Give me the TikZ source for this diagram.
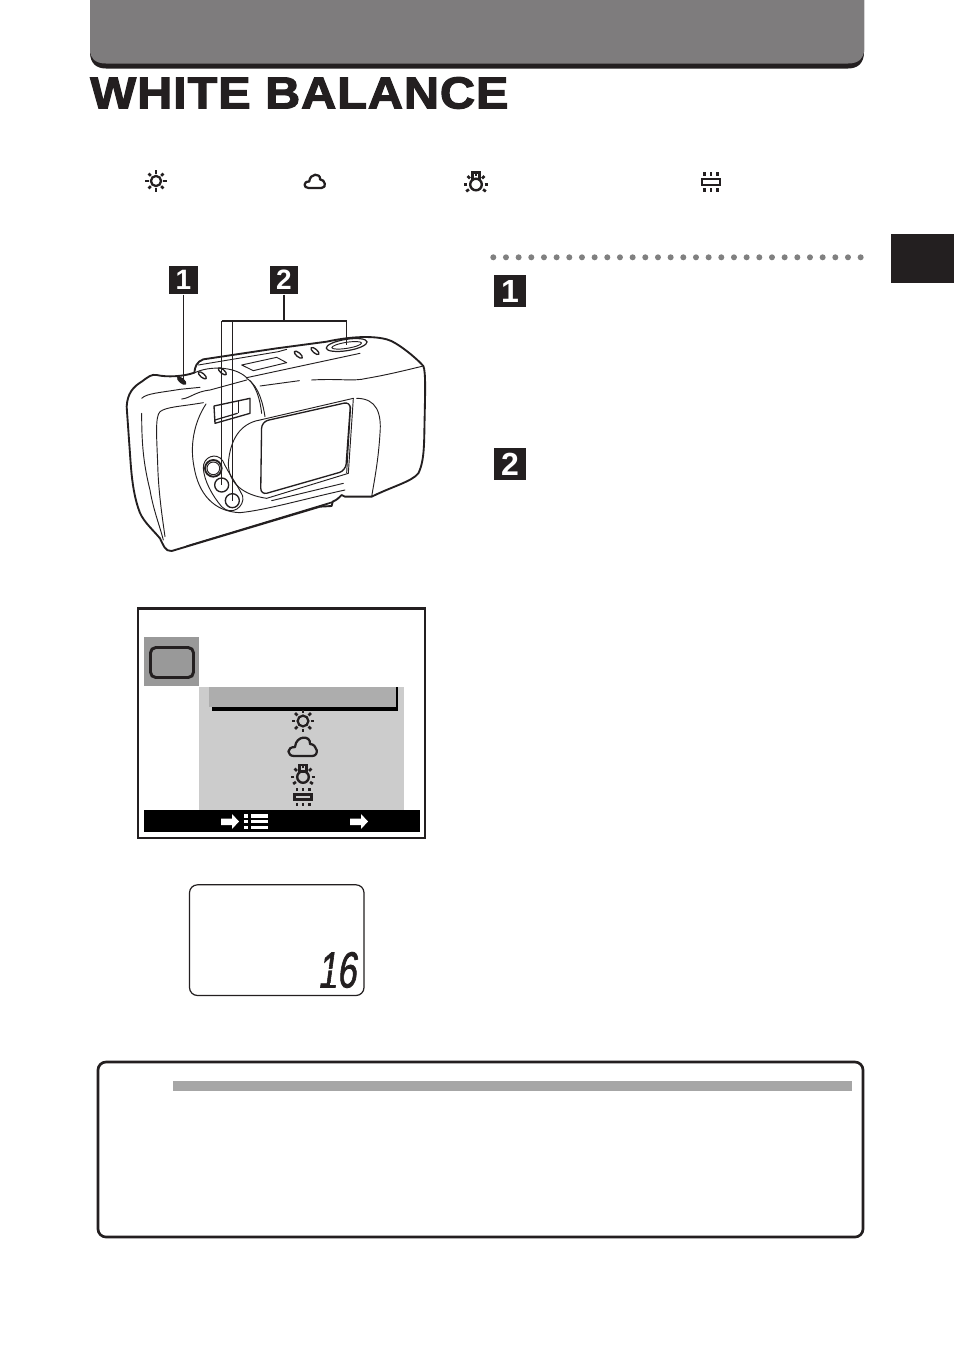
\documentclass[tikz,border=0pt]{standalone}
\usepackage{fontspec}
\setmainfont{Liberation Sans}
\newfontfamily\titlefont[FakeBold=2.6,FakeStretch=1.09,LetterSpace=2]{Liberation Sans Bold}
\newfontfamily\numfont{Liberation Sans Bold}
\newfontfamily\lcdfont[FakeSlant=0.2,FakeBold=1.6]{Liberation Sans}
\definecolor{ink}{HTML}{231F20}
\definecolor{band}{HTML}{7E7C7D}
\usetikzlibrary{calc}
\tikzset{
  stepmark/.style={fill=ink,text=white,inner sep=0pt,minimum width=#1,minimum height=#1,font=\numfont},
  cam/.style={draw=ink,line width=0.7pt,line cap=round,line join=round},
  camthick/.style={draw=ink,line width=1.4pt,line cap=round,line join=round},
  leader/.style={draw=ink,line width=0.9pt},
  ico/.style={draw=ink,line width=1.7pt},
}
\newcommand{\sunicon}[2]{\begin{scope}[shift={(#1)},scale=#2]
  \draw[ico] (0,0) circle (5.5);
  \foreach \a in {0,45,...,315}{\draw[ico,line width=2pt] (\a:8)--(\a:11.5);}\end{scope}}
\newcommand{\cloudicon}[2]{\begin{scope}[shift={(#1)},scale=#2]
  \draw[ico,line width=1.7pt,line join=round] (-9,9) .. controls (-16,9) and (-17,0) .. (-8,0)
   .. controls (-7,-12) and (8,-12) .. (7,-3) .. controls (14,-3) and (17,9) .. (9,9) -- cycle;\end{scope}}
\newcommand{\bulbicon}[2]{\begin{scope}[shift={(#1)},scale=#2]
  \draw[ico,line width=1.8pt] (0,2) circle (5.8);
  \draw[ico,line width=1.8pt] (-3.5,-3.5) rectangle (3.5,-10);
  \foreach \a in {0,35,145,180,225,270,315}{\draw[ico,line width=2pt] ($(0,2)+(\a:8.6)$)--($(0,2)+(\a:12)$);}\end{scope}}
\newcommand{\fluoricon}[2]{\begin{scope}[shift={(#1)},scale=#2]
  \draw[ico,line width=2pt] (-9.5,-3) rectangle (9.5,3);
  \foreach \x in {-7,0,7}{\draw[ico,line width=1.8pt] (\x,-6.5)--(\x,-10.5);\draw[ico,line width=1.8pt] (\x,6.5)--(\x,10.5);}\end{scope}}
\begin{document}
\begin{tikzpicture}[x=0.75pt,y=-0.75pt]
\useasboundingbox (0,0) rectangle (954,1346);
\fill[white] (0,0) rectangle (954,1346);
% header band
\fill[ink] (90,-2) -- (90,52) .. controls (90,63) and (96,68.5) .. (106,68.5) -- (848,68.5) .. controls (858,68.5) and (864,63) .. (864,52) -- (864,-2) -- cycle;
\fill[band] (90,-2) -- (90,50) .. controls (90,58) and (95,63.5) .. (106,63.5) -- (848,63.5) .. controls (859,63.5) and (864,58) .. (864,50) -- (864,-2) -- cycle;
\node[anchor=west,inner sep=0pt,text=ink,font=\titlefont\fontsize{33.5pt}{33.5pt}\selectfont] (title) at (90,93) {WHITE BALANCE};
% mode icons
\sunicon{156,181}{0.92}
\cloudicon{315,181.5}{0.72}
\bulbicon{476,182.5}{1.0}
\fluoricon{711,182}{0.95}
% side tab
\fill[ink] (891,234) rectangle (954,283);
% dots
\foreach \k in {0,...,29}{\fill[black!50] ({493.3+12.667*\k},257.3) circle (3);}
% step marks
\node[stepmark=24pt,font=\numfont\fontsize{24pt}{24pt}\selectfont] (s1) at (510,291) {1};
\node[stepmark=24pt,font=\numfont\fontsize{24pt}{24pt}\selectfont] (s2) at (510,464) {2};
\node[stepmark=21.5pt,font=\numfont\fontsize{21pt}{21pt}\selectfont] (c1) at (183.5,280) {1};
\node[stepmark=21.5pt,font=\numfont\fontsize{21pt}{21pt}\selectfont] (c2) at (284,280) {2};
% camera
\begin{scope}[xshift=75pt,yshift=-187.5pt,x=0.25pt,y=-0.25pt]
 \draw[camthick,fill=white] (80,470) .. controls (82,430) and (100,410) .. (125,395) .. controls (145,380) and (155,372) .. (170,375) .. controls (200,382) and (250,380) .. (283,368)
   .. controls (285,350) and (290,335) .. (310,328) -- (530,295) -- (680,275) .. controls (740,262) and (810,255) .. (860,268)
   .. controls (890,275) and (950,325) .. (970,348) .. controls (978,365) and (975,440) .. (974,500)
   .. controls (972,570) and (975,630) .. (955,670) .. controls (935,695) and (880,708) .. (815,740)
   -- (735,740) -- (725,735) .. controls (715,745) and (710,750) .. (698,755) -- (695,768) -- (660,770)
   -- (215,903) .. controls (195,905) and (190,885) .. (180,865) .. controls (150,830) and (125,810) .. (115,775)
   .. controls (100,730) and (95,680) .. (92,640) -- (80,470) -- cycle;
 % top plate
 \draw[cam] (285,368) .. controls (320,350) and (400,345) .. (440,383);
 \draw[cam] (295,345) -- (535,305) -- (560,298);
 \draw[cam] (440,383) -- (780,310);
 \draw[cam] (480,408) -- (598,392);
 \draw[cam] (635,390) .. controls (720,385) and (760,395) .. (800,385) .. controls (860,375) and (920,360) .. (970,348);
 \draw[cam] (125,445) .. controls (140,430) and (180,428) .. (240,418) -- (300,412);
 \draw[cam] (245,447) .. controls (270,445) and (285,425) .. (330,420) -- (440,390);
 % dimples
 \foreach \p in {(245,392),(307,376),(367,364),(595,314),(645,303)}{
   \draw[camthick,line width=1pt,rotate around={-40:\p}] \p ellipse (15 and 6);}
 \fill[ink,rotate around={-40:(245,392)}] (245,392) ellipse (15 and 6);
 % display & shutter
 \draw[cam] (425,345) -- (530,322) -- (560,338) -- (460,362) -- cycle;
 \draw[camthick,line width=0.9pt,rotate around={9:(740,285)}] (740,285) ellipse (62 and 17);
 \draw[cam,rotate around={9:(740,286)}] (740,286) ellipse (45 and 9);
 % grip
 \draw[cam] (310,458) .. controls (240,470) and (200,470) .. (180,485) .. controls (165,500) and (170,560) .. (173,640) .. controls (175,720) and (185,790) .. (195,860);
 \draw[cam] (125,490) .. controls (125,580) and (130,640) .. (150,720) .. controls (160,780) and (180,830) .. (190,870);
 % lens barrel ring
 \draw[cam] (318,462) .. controls (280,520) and (270,590) .. (282,650) .. controls (295,730) and (340,785) .. (420,788) .. controls (500,780) and (620,745) .. (735,720);
 \draw[cam] (440,385) .. controls (480,410) and (490,470) .. (495,500);
 \draw[cam] (450,392) .. controls (475,420) and (482,465) .. (485,490);
 % viewfinder
 \draw[camthick,line width=1pt] (342,468) -- (450,445) -- (450,490) -- (345,520) -- cycle;
 \draw[cam] (415,452) -- (415,488);
 \draw[camthick,line width=0.9pt] (345,510) -- (412,490);
 % LCD surround
 \draw[cam] (480,510) .. controls (420,520) and (390,570) .. (385,640) .. controls (385,700) and (430,735) .. (500,745);
 \draw[cam] (480,510) -- (760,445);
 \draw[camthick,line width=1pt,rounded corners=5pt] (485,515) -- (752,455) -- (737,662) -- (482,735) -- cycle;
 \draw[cam] (760,445) -- (745,670) -- (500,745);
 \draw[cam] (752,470) -- (740,668);
 \draw[cam] (515,752) -- (730,700);
 % right part
 \draw[cam] (770,445) .. controls (830,445) and (845,490) .. (840,550) .. controls (835,630) and (825,680) .. (815,740);
 % buttons
 \draw[cam] (310,655) .. controls (308,620) and (350,605) .. (368,632) .. controls (385,670) and (410,700) .. (428,738)
    .. controls (435,770) and (395,800) .. (365,770) .. controls (335,735) and (312,690) .. (310,655) -- cycle;
 \draw[camthick,fill=white] (340,655) circle (25);
 \draw[cam] (340,655) circle (19);
 \draw[camthick,line width=1pt] (365,705) circle (21);
 \draw[camthick,line width=1pt] (397,752) circle (21);
 % bottom highlight
 \draw[camthick,line width=0.9pt] (260,888) -- (700,755);
 \draw[cam] (660,770) -- (695,758);
 % anchors for leaders
 \coordinate (l1) at (250,392);
 \coordinate (j2) at (553,213);
 \coordinate (ja) at (365,213);
 \coordinate (jb) at (398,213);
 \coordinate (jc) at (740,213);
 \coordinate (ea) at (365,705);
 \coordinate (eb) at (398,752);
 \coordinate (ec) at (740,285);
\end{scope}
\draw[leader] (c1.south) -- (c1.south |- l1);
\draw[leader] (c2.south) -- (c2.south |- j2);
\draw[leader] (ja) -- (jc) -- (ec);
\draw[leader] (ja) -- (ea);
\draw[leader] (jb) -- (eb);
% monitor
\draw[ink,line width=2pt] (138,608.5) rectangle (425,838);
\fill[black!40] (144,637) rectangle (198.5,686);
\draw[ink,line width=2.2pt,rounded corners=4pt,fill=black!40] (150.5,647.5) rectangle (193.5,677.5);
\fill[black!20] (199,687) rectangle (404,810);
\fill[black!32] (209,687) rectangle (396,707);
\fill[black] (212,707) rectangle (397.5,711);
\fill[black] (395.5,687) rectangle (397.5,711);
\sunicon{303,721}{0.98}
\cloudicon{303,747}{1}
\bulbicon{303,775}{1}
\fluoricon{303,797}{0.9}
\fill[black] (143.5,810) rectangle (419.5,832);
\fill[white] (221,818.5) -- (232,818.5) -- (232,814) -- (239,821.5) -- (232,829) -- (232,825) -- (221,825) -- cycle;
\fill[white] (350,818.5) -- (361,818.5) -- (361,814) -- (368,821.5) -- (361,829) -- (361,825) -- (350,825) -- cycle;
\foreach \y in {816,821.7,827.4}{\fill[white] (244,\y-1.6) rectangle (247.5,\y+1.6);\fill[white] (251,\y-1.6) rectangle (268,\y+1.6);}
% LCD panel
\draw[ink,line width=0.9pt,rounded corners=6pt] (189.5,884.8) rectangle (364,995.5);
\node[inner sep=0pt,text=ink,xscale=0.68,font=\lcdfont\fontsize{38pt}{38pt}\selectfont] (lcd) at (337,970) {16};
\draw[white,line width=1pt] (317,970.5) -- (333,969.5);
\draw[white,line width=1pt] (336,955.5) -- (344,955);
\draw[white,line width=1pt] (330,984) -- (340,984);
% note box
\draw[ink,line width=2pt,rounded corners=6pt] (98,1062) rectangle (863,1237);
\fill[black!35] (173,1081) rectangle (852,1091);
\end{tikzpicture}
\end{document}
